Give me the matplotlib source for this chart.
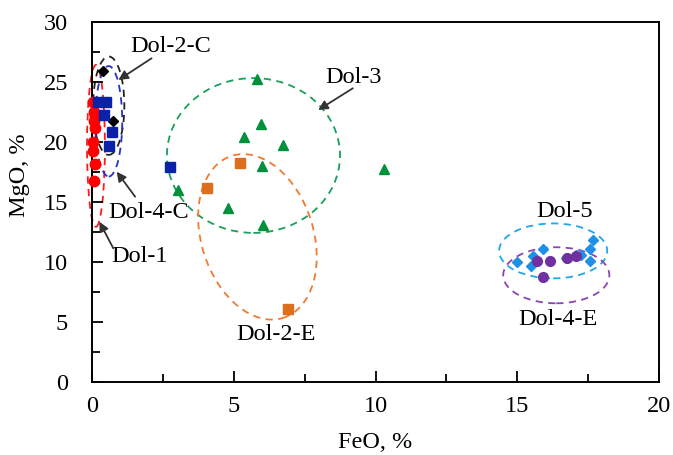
import numpy as np
import matplotlib.pyplot as plt
import matplotlib.transforms as mtransforms
from matplotlib.patches import Ellipse

plt.rcParams['font.family'] = ['Liberation Serif', 'DejaVu Serif']

# FeO / MgO (%) per dolomite type
dol1_feo = [0.05, 0.08, 0.1, 0.08, 0.1, 0.03, 0.06, 0.1, 0.08]
dol1_mgo = [23.3, 22.5, 22.1, 21.7, 21.1, 20.0, 19.2, 18.1, 16.7]

dol2c_feo = [0.41, 0.76]
dol2c_mgo = [25.9, 21.7]

dol4c_feo = [0.23, 0.5, 0.43, 0.73, 0.62, 2.76]
dol4c_mgo = [23.3, 23.3, 22.2, 20.8, 19.6, 17.9]

dol3_feo = [5.81, 5.97, 5.38, 6.75, 5.99, 3.05, 4.79, 6.05, 10.31]
dol3_mgo = [25.2, 21.5, 20.4, 19.7, 18.0, 16.0, 14.45, 13.1, 17.7]

dol2e_feo = [5.23, 4.05, 6.93]
dol2e_mgo = [18.2, 16.1, 6.1]

dol5_feo = [17.65, 17.56, 15.89, 15.0, 15.56, 15.48, 16.71, 17.07, 17.24, 17.56]
dol5_mgo = [11.8, 11.05, 11.05, 9.95, 10.5, 9.65, 10.35, 10.55, 10.55, 10.05]

dol4e_feo = [15.68, 16.15, 16.74, 17.07, 15.89]
dol4e_mgo = [10.05, 10.05, 10.35, 10.5, 8.75]

fig = plt.figure(figsize=(6.73, 4.55), dpi=100)
ax = fig.add_axes([91.7 / 673, (455 - 381.7) / 455, (659.3 - 91.7) / 673, (381.7 - 21.7) / 455])

# group ellipses (center x, center y, width, height, colour), axis aligned
ellipses = [
    (0.15, 19.65, 0.63, 13.5, '#ff1a1a'),
    (0.6, 23.0, 1.1, 8.2, '#222222'),
    (0.6, 21.7, 0.95, 9.2, '#2630c8'),
    (5.7, 18.85, 6.1, 12.9, '#17a05a'),
    (16.26, 10.9, 3.81, 4.58, '#1ea8e8'),
    (16.37, 8.87, 3.74, 4.67, '#8a45b5'),
]
for cx, cy, w, h, c in ellipses:
    ax.add_patch(Ellipse((cx, cy), w, h, fill=False, edgecolor=c, lw=1.3,
                         linestyle=(0, (4, 3)), clip_on=False))

# tilted Dol-2-E ellipse, sized in inches around a data centre
tr = fig.dpi_scale_trans + mtransforms.ScaledTranslation(5.84, 12.07, ax.transData)
ax.add_patch(Ellipse((0, 0), 1.12, 1.70, angle=17.7, fill=False, edgecolor='#f07a30',
                     lw=1.3, linestyle=(0, (4, 3)), transform=tr, clip_on=False))

ax.plot(dol1_feo, dol1_mgo, 'o', color='#ff0000', ms=7.5, clip_on=False, zorder=5)
ax.plot(dol2c_feo, dol2c_mgo, 'D', color='#000000', ms=5, clip_on=False, zorder=5)
ax.plot(dol4c_feo, dol4c_mgo, 's', color='#0a22a8', ms=6.5, clip_on=False, zorder=5)
ax.plot(dol3_feo, dol3_mgo, '^', color='#00913a', ms=7, clip_on=False, zorder=5)
ax.plot(dol2e_feo, dol2e_mgo, 's', color='#dc6e1e', ms=6.5, clip_on=False, zorder=5)
ax.plot(dol5_feo, dol5_mgo, 'D', color='#1e90e6', ms=5.5, clip_on=False, zorder=5)
ax.plot(dol4e_feo, dol4e_mgo, 'o', color='#7030a0', ms=7, clip_on=False, zorder=6)

fs = 17.5
arrow = dict(arrowstyle='-|>', color='#333333', lw=1.3, mutation_scale=14, shrinkA=0, shrinkB=0)
ax.text(2.79, 27.95, 'Dol-2-C', fontsize=fs, ha='center', va='center')
ax.annotate('', xy=(0.94, 25.14), xytext=(2.11, 26.95), arrowprops=arrow)
ax.text(2.02, 14.14, 'Dol-4-C', fontsize=fs, ha='center', va='center')
ax.annotate('', xy=(0.88, 17.5), xytext=(1.53, 15.42), arrowprops=arrow)
ax.text(1.70, 10.47, 'Dol-1', fontsize=fs, ha='center', va='center')
ax.annotate('', xy=(0.27, 13.33), xytext=(0.76, 11.12), arrowprops=arrow)
ax.text(9.24, 25.35, 'Dol-3', fontsize=fs, ha='center', va='center')
ax.annotate('', xy=(7.98, 22.64), xytext=(9.2, 24.45), arrowprops=arrow)
ax.text(6.49, 3.97, 'Dol-2-E', fontsize=fs, ha='center', va='center')
ax.text(16.65, 14.2, 'Dol-5', fontsize=fs, ha='center', va='center')
ax.text(16.44, 5.21, 'Dol-4-E', fontsize=fs, ha='center', va='center')

ax.set_xlim(0, 20)
ax.set_ylim(0, 30)
ax.set_xticks(np.arange(0, 21, 5))
ax.set_yticks(np.arange(0, 31, 5))
ax.set_xticks(np.arange(2.5, 20, 5), minor=True)
ax.set_yticks(np.arange(2.5, 30, 5), minor=True)
ax.tick_params(which='both', direction='in', width=1.3, labelsize=fs)
ax.tick_params(which='major', length=8)
ax.tick_params(which='minor', length=6)
ax.tick_params(axis='x', pad=10)
ax.tick_params(axis='y', pad=17)
for s in ax.spines.values():
    s.set_linewidth(1.4)

ax.set_xlabel('FeO, %', fontsize=fs)
ax.set_ylabel('MgO, %', fontsize=fs)
ax.xaxis.set_label_coords(0.5, -0.14)
ax.yaxis.set_label_coords(-0.108, 0.574)

fig.savefig('out.png', dpi=100)
